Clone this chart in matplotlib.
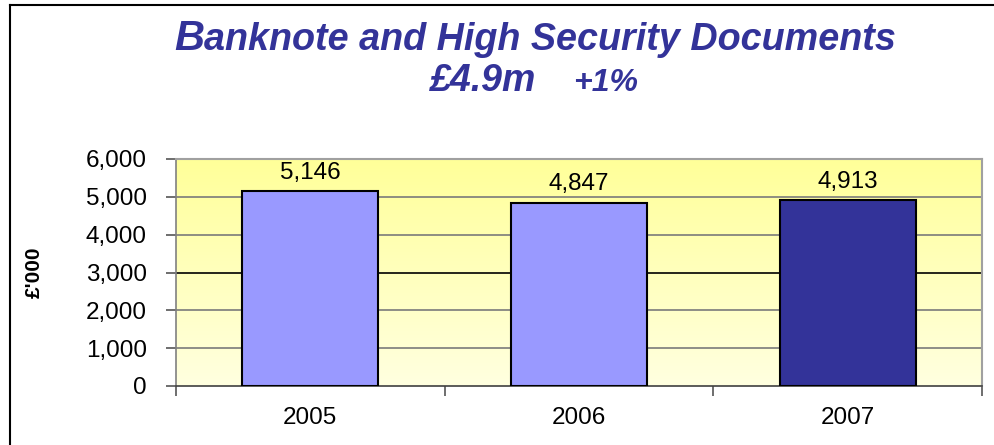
import matplotlib
matplotlib.use("Agg")
import matplotlib.pyplot as plt
import numpy as np
from matplotlib.lines import Line2D
from matplotlib.colors import LinearSegmentedColormap

years = ["2005", "2006", "2007"]
values = [5146, 4847, 4913]
bar_colors = ["#9999FF", "#9999FF", "#333399"]
yticks = [0, 1000, 2000, 3000, 4000, 5000, 6000]

W, H = 994, 445
fig = plt.figure(figsize=(W / 100, H / 100), dpi=100)
fig.patch.set_facecolor("white")
FONT = "Liberation Sans"

l, r, t, b = 176, 982, 159, 386
ax = fig.add_axes([l / W, 1 - b / H, (r - l) / W, (b - t) / H])
ax.set_xlim(-0.5, 2.5)
ax.set_ylim(0, 6000)

# gradient background
cmap = LinearSegmentedColormap.from_list("bg", ["#FFFFE0", "#FFFF99"])
grad = np.linspace(0, 1, 256).reshape(-1, 1)
ax.imshow(grad, extent=(-0.5, 2.5, 0, 6000), origin="lower", aspect="auto",
          cmap=cmap, zorder=0)

x = np.arange(len(years))
ax.bar(x, values, width=0.505, color=bar_colors, edgecolor="black",
       linewidth=1.5, zorder=3)
for xi, v in zip(x, values):
    ax.annotate(f"{v:,}", (xi, v), xytext=(0, 9), textcoords="offset points",
                ha="center", va="baseline", fontsize=17.5, family=FONT, zorder=4)

for yt in yticks[1:-1]:
    ax.axhline(yt, color="#7A7A7A" if yt != 3000 else "black", lw=1.2, zorder=1)

ax.set_yticks(yticks)
ax.set_yticklabels([f"{v:,}" for v in yticks], family=FONT, fontsize=17.5)
ax.set_xticks(x)
ax.set_xticklabels(years, family=FONT, fontsize=17.5)
ax.tick_params(axis="x", length=0, pad=15)
ax.set_xticks([-0.5, 0.5, 1.5, 2.5], minor=True)
ax.tick_params(axis="x", which="minor", length=7, width=1.2, color="#555555",
               direction="out")
ax.tick_params(axis="y", length=7, width=1.2, color="#555555", direction="out",
               pad=14)

for s in ["top", "right"]:
    ax.spines[s].set_color("#A0A0A0")
    ax.spines[s].set_linewidth(1.5)
ax.spines["left"].set_color("#808080")
ax.spines["left"].set_linewidth(1.2)
ax.spines["bottom"].set_color("#404040")
ax.spines["bottom"].set_linewidth(1.2)

fig.text(34 / W, 1 - 272 / H, "£'000", family=FONT, fontweight="bold",
         fontsize=15, rotation=90, ha="center", va="center")

# Title
title_color = "#333399"
tB = fig.text(174 / W, 1 - 50 / H, "B", family=FONT, fontweight="bold",
              style="italic", fontsize=30, color=title_color, va="baseline",
              ha="left")
fig.canvas.draw()
bb = tB.get_window_extent(fig.canvas.get_renderer())
fig.text(bb.x1 / W, 1 - 50 / H, "anknote and High Security Documents",
         family=FONT, fontweight="bold", style="italic", fontsize=27.2,
         color=title_color, va="baseline", ha="left")
fig.text(430 / W, 1 - 91 / H, "£4.9m", family=FONT, fontweight="bold",
         style="italic", fontsize=27, color=title_color, va="baseline", ha="left")
fig.text(573 / W, 1 - 91 / H, "+1%", family=FONT, fontweight="bold",
         style="italic", fontsize=23, color=title_color, va="baseline", ha="left")

# frame lines
fig.add_artist(Line2D([10 / W, 10 / W], [0, 1 - 5 / H], color="black", lw=1.5,
                      transform=fig.transFigure))
fig.add_artist(Line2D([10 / W, 1], [1 - 5 / H, 1 - 5 / H], color="black", lw=1.5,
                      transform=fig.transFigure))

fig.savefig("out.png", dpi=100)
